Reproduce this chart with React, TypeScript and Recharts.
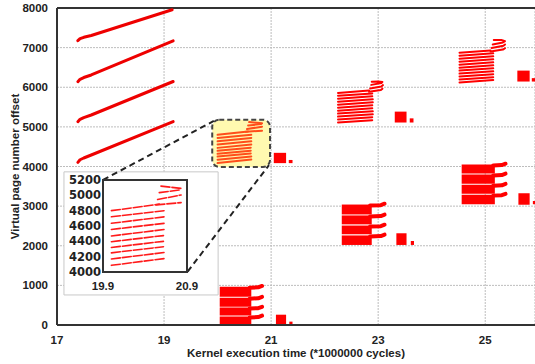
import { ComposedChart, Line, XAxis, YAxis, CartesianGrid, ReferenceArea, ReferenceLine } from "recharts";

type Pt = [number, number];
type Box = [number, number, number, number]; // x1, x2, y1, y2

const xTicks = [17, 19, 21, 23, 25];
const yTicks = [0, 1000, 2000, 3000, 4000, 5000, 6000, 7000, 8000];
const insetXTicks = [19.9, 20.9];
const insetYTicks = [4000, 4200, 4400, 4600, 4800, 5000, 5200];

// long sequential scans at the start of the run
const scanLines: Pt[][] = [
  [[17.39, 4105], [17.43, 4170], [17.5, 4215], [17.64, 4290], [19.17, 5135]],
  [[17.39, 5130], [17.43, 5190], [17.5, 5235], [17.64, 5300], [19.17, 6145]],
  [[17.39, 6140], [17.43, 6200], [17.5, 6245], [17.64, 6310], [19.17, 7170]],
  [[17.39, 7175], [17.43, 7225], [17.5, 7260], [17.64, 7305], [19.15, 7955]],
];

// striped bursts (the first one is the zoomed one)
const burstA1: Pt[][] = [
  [[20.0, 4087], [20.63, 4175]],
  [[20.0, 4170], [20.63, 4255]],
  [[20.0, 4250], [20.62, 4330]],
  [[20.0, 4320], [20.62, 4400]],
  [[20.0, 4395], [20.62, 4475]],
  [[20.0, 4470], [20.63, 4555]],
  [[20.0, 4555], [20.63, 4635]],
  [[20.0, 4635], [20.63, 4720]],
  [[20.0, 4720], [20.63, 4800]],
  [[20.0, 4800], [20.57, 4885]],
  [[20.53, 4875], [20.83, 4905]],
  [[20.55, 4945], [20.83, 5005]],
  [[20.57, 5035], [20.81, 5070]],
  [[20.59, 5120], [20.83, 5090]],
];

const burstA2: Pt[][] = [
  [[22.25, 5110], [22.89, 5170]],
  [[22.25, 5185], [22.89, 5245]],
  [[22.25, 5260], [22.9, 5320]],
  [[22.25, 5335], [22.9, 5395]],
  [[22.25, 5410], [22.89, 5470]],
  [[22.25, 5485], [22.89, 5545]],
  [[22.25, 5560], [22.9, 5620]],
  [[22.25, 5635], [22.9, 5695]],
  [[22.25, 5710], [22.89, 5770]],
  [[22.25, 5785], [22.89, 5845]],
  [[22.25, 5855], [22.83, 5915]],
  [[22.83, 5885], [23.05, 5930], [23.08, 5965]],
  [[22.85, 5970], [23.06, 6020], [23.09, 6055]],
  [[22.87, 6060], [23.06, 6105], [23.08, 6135], [23.0, 6145], [22.88, 6140]],
];

const burstA3: Pt[][] = [
  [[24.52, 6120], [25.15, 6180]],
  [[24.52, 6195], [25.15, 6255]],
  [[24.52, 6270], [25.15, 6330]],
  [[24.52, 6345], [25.15, 6405]],
  [[24.52, 6420], [25.15, 6480]],
  [[24.52, 6495], [25.15, 6555]],
  [[24.52, 6570], [25.15, 6630]],
  [[24.52, 6645], [25.15, 6705]],
  [[24.52, 6720], [25.15, 6780]],
  [[24.52, 6795], [25.15, 6855]],
  [[24.52, 6870], [25.1, 6930]],
  [[25.1, 6900], [25.33, 6950], [25.37, 6985]],
  [[25.12, 6990], [25.34, 7045], [25.37, 7080]],
  [[25.14, 7080], [25.33, 7130], [25.37, 7165], [25.3, 7195], [25.16, 7190]],
];

// solid bursts: bands and their tails
const blockBands: Box[] = [
  [20.04, 20.63, 0, 215], [20.04, 20.63, 240, 440], [20.04, 20.63, 462, 690], [20.04, 20.63, 712, 965],
  [22.32, 22.88, 2020, 2260], [22.32, 22.88, 2290, 2510], [22.32, 22.88, 2540, 2765], [22.32, 22.88, 2790, 3040],
  [24.56, 25.18, 3048, 3290], [24.56, 25.18, 3315, 3540], [24.56, 25.18, 3565, 3800], [24.56, 25.18, 3825, 4050],
];

const blockTails: Pt[][] = [
  [[20.6, 940], [20.76, 950], [20.83, 985]],
  [[20.6, 665], [20.76, 675], [20.83, 710]],
  [[20.6, 415], [20.76, 425], [20.83, 460]],
  [[20.6, 190], [20.76, 200], [20.83, 235]],
  [[22.85, 3015], [23.05, 3025], [23.12, 3060]],
  [[22.85, 2740], [23.05, 2750], [23.12, 2785]],
  [[22.85, 2485], [23.05, 2495], [23.12, 2530]],
  [[22.85, 2235], [23.05, 2245], [23.12, 2280]],
  [[25.15, 4025], [25.31, 4035], [25.38, 4070]],
  [[25.15, 3775], [25.31, 3785], [25.38, 3820]],
  [[25.15, 3515], [25.31, 3525], [25.38, 3560]],
  [[25.15, 3265], [25.31, 3275], [25.38, 3310]],
];

const pageSquares: Box[] = [
  [21.09, 21.28, 0, 260],
  [21.05, 21.28, 4085, 4345],
  [23.31, 23.53, 5110, 5385],
  [23.34, 23.53, 2020, 2315],
  [25.6, 25.83, 6144, 6420],
  [25.62, 25.83, 3035, 3325],
];

const pageDots: Box[] = [
  [21.34, 21.4, 0, 85],
  [21.33, 21.4, 4085, 4165],
  [23.59, 23.66, 5110, 5215],
  [23.61, 23.67, 2020, 2120],
  [25.87, 25.93, 6144, 6230],
  [25.89, 25.93, 3048, 3130],
];

const insetFrame: Box = [17.13, 20.01, 758, 3865];
const zoomBox: Box = [19.9, 20.98, 3990, 5180];
const connectors: Pt[][] = [
  [[17.86, 3662], [19.93, 5150]],
  [[19.44, 1346], [20.96, 4035]],
];

const font = "'Liberation Sans', Arial, sans-serif";
const tickStyle = { fill: "#222", fontSize: 11.5, fontWeight: 700, fontFamily: font };

const toRows = (pts: Pt[]) => pts.map(([x, y]) => ({ x, y }));

const paths = (groups: Pt[][], key: string, color: string, width: number, dash?: string) =>
  groups.map((pts, i) => (
    <Line
      key={`${key}-${i}`}
      data={toRows(pts)}
      dataKey="y"
      type="linear"
      stroke={color}
      strokeWidth={width}
      strokeDasharray={dash}
      strokeLinecap="round"
      strokeLinejoin="round"
      dot={false}
      activeDot={false}
      legendType="none"
      isAnimationActive={false}
    />
  ));

const rects = (boxes: Box[], key: string, color: string) =>
  boxes.map(([x1, x2, y1, y2], i) => (
    <ReferenceArea key={`${key}-${i}`} x1={x1} x2={x2} y1={y1} y2={y2} fill={color} fillOpacity={1} stroke="none" ifOverflow="hidden" />
  ));

export default function App() {
  return (
    <div style={{ position: "absolute", left: 0, top: 0, width: 535, height: 364, background: "#fff" }}>
      <ComposedChart width={535} height={364} margin={{ top: 8, right: 0, bottom: 0, left: 0 }}>
        <CartesianGrid stroke="#bdbdbd" strokeDasharray="2 1" />
        <XAxis
          dataKey="x"
          type="number"
          domain={[17, 25.93]}
          ticks={xTicks}
          interval={0}
          allowDataOverflow
          height={39}
          tick={tickStyle}
          tickLine={false}
          tickSize={0}
          tickMargin={11}
          axisLine={{ stroke: "#333", strokeWidth: 2 }}
          label={{ value: "Kernel execution time (*1000000 cycles)", position: "insideBottom", offset: 7, style: { ...tickStyle, textAnchor: "middle" } }}
        />
        <YAxis
          type="number"
          domain={[0, 8000]}
          ticks={yTicks}
          interval={0}
          allowDataOverflow
          width={57}
          tick={tickStyle}
          tickLine={false}
          tickSize={0}
          tickMargin={9}
          axisLine={{ stroke: "#333", strokeWidth: 2 }}
          label={{ value: "Virtual page number offset", angle: -90, position: "insideLeft", offset: 15, style: { ...tickStyle, textAnchor: "middle" } }}
        />
        <ReferenceLine y={8000} stroke="#333" strokeWidth={2} ifOverflow="visible" />
        <ReferenceArea
          x1={insetFrame[0]} x2={insetFrame[1]} y1={insetFrame[2]} y2={insetFrame[3]}
          fill="#fff" fillOpacity={1} stroke="#c8c8c8" strokeWidth={1} ifOverflow="visible"
        />
        <ReferenceArea
          x1={zoomBox[0]} x2={zoomBox[1]} y1={zoomBox[2]} y2={zoomBox[3]}
          ifOverflow="visible"
          shape={(p: any) => (
            <rect x={p.x} y={p.y} width={p.width} height={p.height} rx={7} ry={7} fill="#fff9b0" stroke="#444" strokeWidth={2} strokeDasharray="5 3" />
          )}
        />
        {rects(blockBands, "band", "#ff0000")}
        {rects(pageSquares, "sq", "#ff0000")}
        {rects(pageDots, "dot", "#ff0000")}
        {paths(scanLines, "scan", "#ee0000", 3)}
        {paths(burstA1, "a1", "#ff4d1a", 2)}
        {paths(burstA2, "a2", "#ff0000", 2)}
        {paths(burstA3, "a3", "#ff0000", 2)}
        {paths(blockTails, "tail", "#ff0000", 4)}
        {connectors.map((seg, i) => (
          <ReferenceLine
            key={`conn-${i}`}
            segment={seg.map(([x, y]) => ({ x, y }))}
            stroke="#222"
            strokeWidth={2}
            strokeDasharray="6 4"
            ifOverflow="visible"
          />
        ))}
      </ComposedChart>

      <div style={{ position: "absolute", left: 64, top: 172 }}>
        <ComposedChart width={154} height={123} margin={{ top: 8, right: 31, bottom: 0, left: 0 }}>
          <XAxis
            dataKey="x"
            type="number"
            domain={[19.9, 20.9]}
            ticks={insetXTicks}
            interval={0}
            allowDataOverflow
            height={23}
            tick={tickStyle}
            tickFormatter={(v: number) => v.toFixed(1)}
            tickLine={false}
            tickSize={0}
            tickMargin={10}
            axisLine={false}
          />
          <YAxis
            type="number"
            domain={[4000, 5200]}
            ticks={insetYTicks}
            interval={0}
            allowDataOverflow
            width={39}
            tick={{ ...tickStyle, fontSize: 11.5, fontFamily: "'DejaVu Sans', sans-serif" }}
            tickLine={false}
            tickSize={0}
            tickMargin={2}
            axisLine={false}
          />
          {paths(burstA1, "inset", "#ff1a1a", 1.6, "9 2")}
          <ReferenceArea x1={19.9} x2={20.9} y1={4000} y2={5200} fill="none" stroke="#333" strokeWidth={2} ifOverflow="visible" />
        </ComposedChart>
      </div>
    </div>
  );
}
